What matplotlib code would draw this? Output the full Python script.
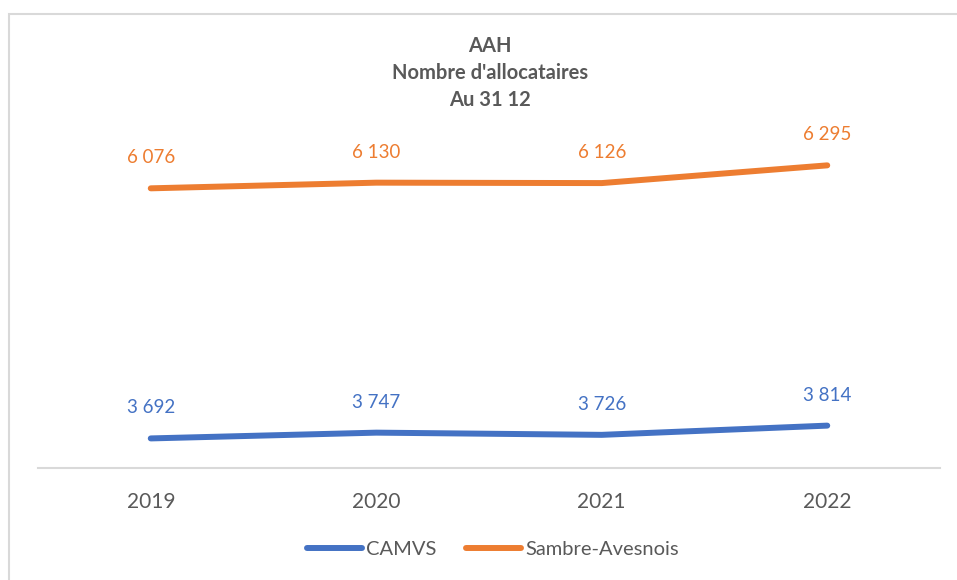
import matplotlib.pyplot as plt
from matplotlib.patches import Rectangle

annees = ['2019', '2020', '2021', '2022']
camvs = [3692, 3747, 3726, 3814]
sambre = [6076, 6130, 6126, 6295]

bleu = '#4472C4'
orange = '#ED7D31'
gris = '#595959'

plt.rcParams['font.family'] = ['Lato', 'DejaVu Sans']

fig = plt.figure(figsize=(9.57, 5.8), dpi=100)
ax = fig.add_axes([38 / 957, 1 - 468 / 580, 902 / 957, 368 / 580])

# cadre gris clair autour du graphique
fig.patches.append(Rectangle((9 / 957, -0.05), 1.2, 1 - 14 / 580 + 0.05,
                             transform=fig.transFigure, fill=False,
                             edgecolor='#d9d9d9', linewidth=1.5))

x = list(range(len(annees)))
ax.plot(x, camvs, color=bleu, linewidth=4.3, solid_capstyle='round', label='CAMVS')
ax.plot(x, sambre, color=orange, linewidth=4.3, solid_capstyle='round', label='Sambre-Avesnois')

def fmt(v):
    return f'{v:,}'.replace(',', ' ')

for xi, v in zip(x, camvs):
    ax.annotate(fmt(v), (xi, v), xytext=(0, 22), textcoords='offset points',
                ha='center', va='center', color=bleu, fontsize=13.5)
for xi, v in zip(x, sambre):
    ax.annotate(fmt(v), (xi, v), xytext=(0, 22), textcoords='offset points',
                ha='center', va='center', color=orange, fontsize=13.5)

ax.set_xlim(-0.5, 3.5)
ax.set_ylim(3410, 6918)
ax.set_xticks(x)
ax.set_xticklabels(annees, fontsize=15, color=gris)
ax.tick_params(axis='x', length=0, pad=17)
ax.set_yticks([])
for s in ['top', 'right', 'left']:
    ax.spines[s].set_visible(False)
ax.spines['bottom'].set_color('#d9d9d9')
ax.spines['bottom'].set_linewidth(1.5)

fig.text(490 / 957, 1 - 73 / 580, "AAH\nNombre d'allocataires\nAu 31 12", ha='center', va='center',
         fontsize=14.5, fontweight='bold', color=gris, linespacing=1.45)

fig.legend(loc='center', bbox_to_anchor=(493 / 957, 1 - 549 / 580), ncol=2, frameon=False,
           fontsize=14.5, labelcolor=gris, handlelength=2.75, handletextpad=0.2, columnspacing=1.45)

fig.savefig('out.png', dpi=100)
